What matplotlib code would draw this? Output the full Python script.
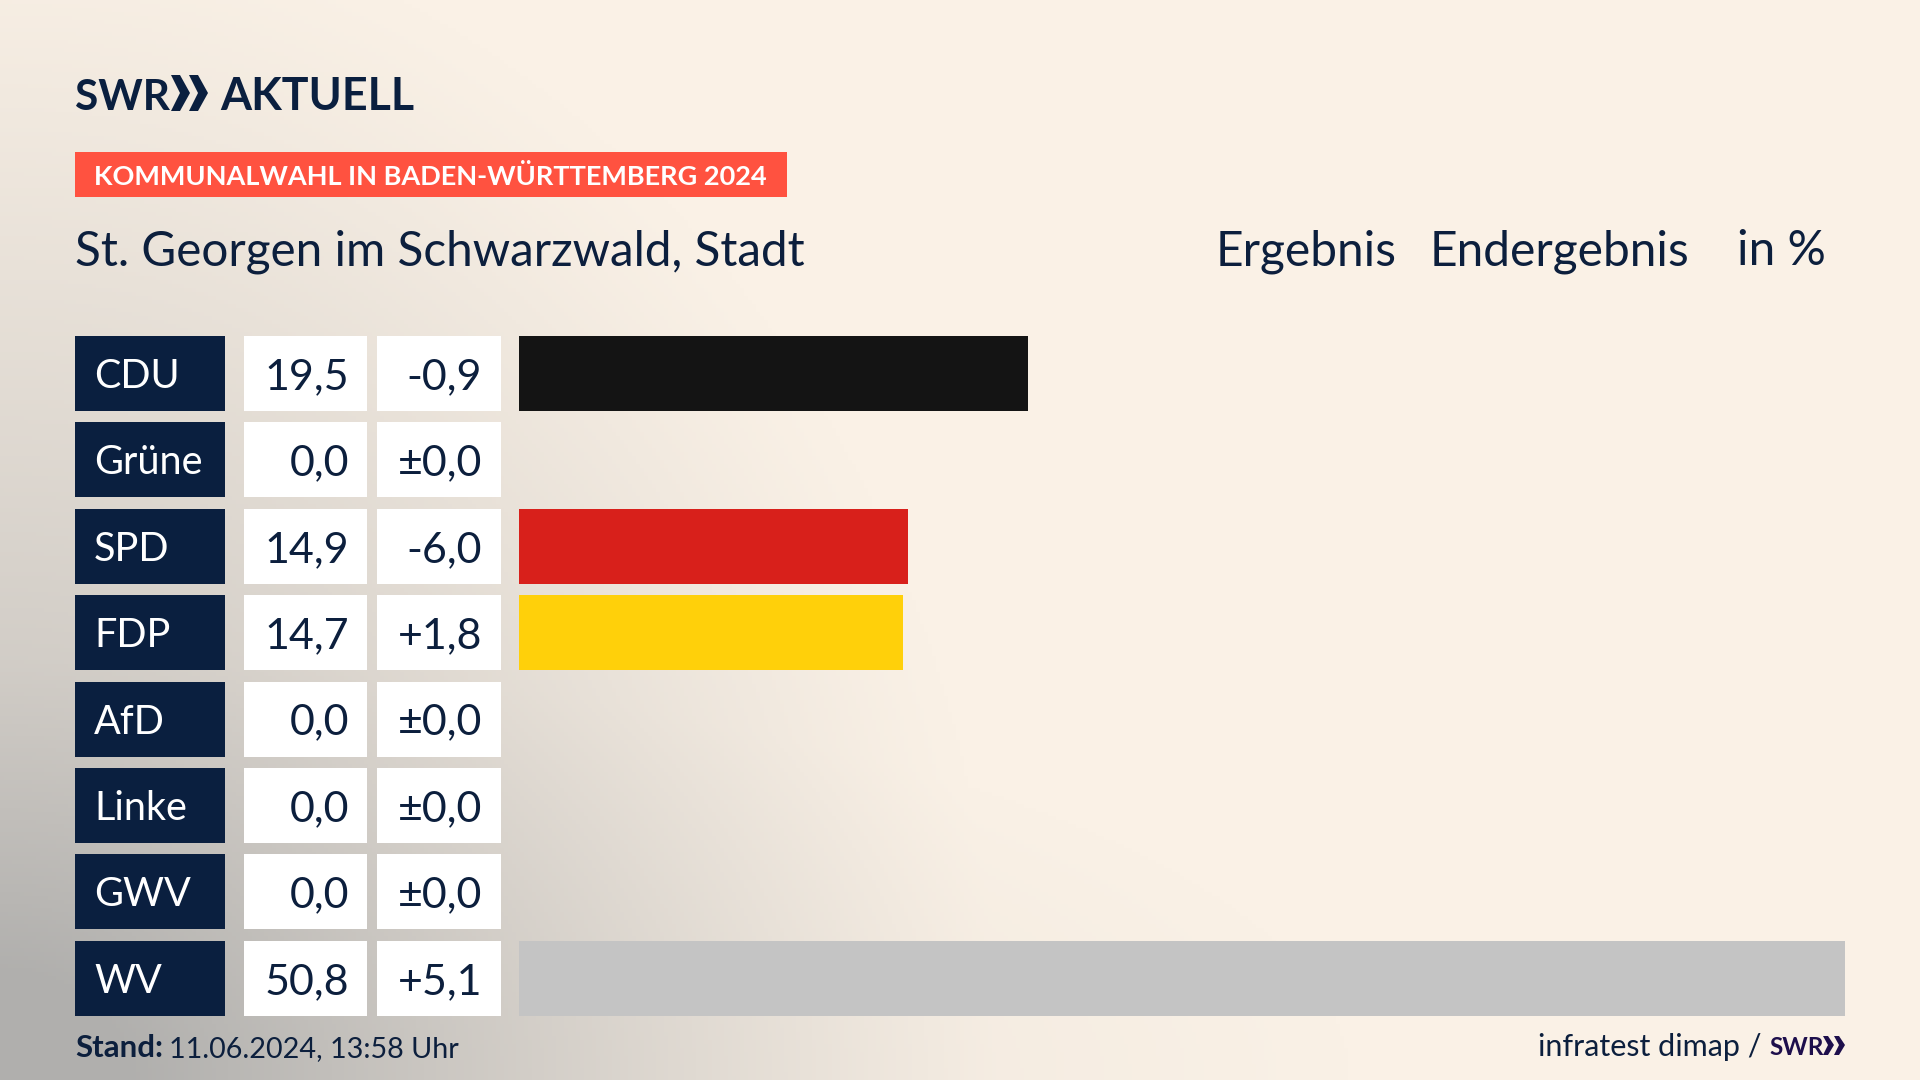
import numpy as np
import matplotlib
matplotlib.use('Agg')
import matplotlib.pyplot as plt
from matplotlib.patches import Rectangle, Polygon

parties = ['CDU', 'Grüne', 'SPD', 'FDP', 'AfD', 'Linke', 'GWV', 'WV']
results = [19.5, 0.0, 14.9, 14.7, 0.0, 0.0, 0.0, 50.8]
changes = [-0.9, 0.0, -6.0, 1.8, 0.0, 0.0, 0.0, 5.1]
bar_colors = ['#141414', '#46962B', '#D8201B', '#FFD00A', '#0087C1', '#BE3075', '#888888', '#C4C4C4']

NAVY = '#0A1F3F'
TEXT = '#0C1F3D'

plt.rcParams['font.family'] = ['Lato', 'DejaVu Sans']


def fmt_result(v):
    return f'{v:.1f}'.replace('.', ',')


def fmt_change(v):
    if v == 0:
        return '±0,0'
    return f'{v:+.1f}'.replace('.', ',')


fig = plt.figure(figsize=(19.2, 10.8), dpi=100)

# pixel canvas for background and all the boxes
bg = fig.add_axes([0, 0, 1, 1])
bg.set_xlim(0, 1920)
bg.set_ylim(1080, 0)
bg.axis('off')

xx, yy = np.meshgrid(np.linspace(0, 1920, 480), np.linspace(0, 1080, 270))
d = np.sqrt((xx / 1000) ** 2 + ((1080 - yy) / 1180) ** 2)
d2 = np.sqrt((xx / 1350) ** 2 + ((1080 - yy) / 420) ** 2)
dark = 0.9 * np.clip(1 - d, 0, 1) ** 1.15 + 0.25 * np.clip(1 - d2, 0, 1)
dark = np.clip(dark, 0, 1)[..., None]
cream = np.array([250, 241, 230]) / 255
grey = np.array([176, 175, 173]) / 255
bg.imshow(cream * (1 - dark) + grey * dark, extent=(0, 1920, 1080, 0), aspect='auto', zorder=0)

# logo
bg.text(75, 110, 'SWR', fontsize=30.5, fontweight='bold', color=NAVY, va='baseline', ha='left')
bg.text(220, 110, 'AKTUELL', fontsize=32.2, fontweight='bold', color=NAVY, va='baseline', ha='left')
for x0 in (171, 189):
    bg.add_patch(Polygon([(x0, 75), (x0 + 9, 75), (x0 + 19, 93), (x0 + 9, 111), (x0, 111), (x0 + 9, 93)],
                         color=NAVY, lw=0, zorder=3))

# red tag
bg.add_patch(Rectangle((75, 152), 712, 45, color='#FF5240', lw=0, zorder=2))
bg.text(94, 185, 'KOMMUNALWAHL IN BADEN-WÜRTTEMBERG 2024', fontsize=19.5, fontweight='bold',
        color='white', va='baseline', ha='left')

# header row
bg.text(75, 265, 'St. Georgen im Schwarzwald, Stadt', fontsize=34.3, color=TEXT, va='baseline')
bg.text(1216, 265, 'Ergebnis', fontsize=34.5, color=TEXT, va='baseline')
bg.text(1430, 265, 'Endergebnis', fontsize=34.5, color=TEXT, va='baseline')
bg.text(1826, 265, 'in %', fontsize=34.5, color=TEXT, va='baseline', ha='right')

# table rows
row_top = 336
row_pitch = 86.4
row_h = 75
for i, name in enumerate(parties):
    top = row_top + i * row_pitch
    mid = top + row_h / 2
    bg.add_patch(Rectangle((75, top), 150, row_h, color=NAVY, lw=0, zorder=2))
    bg.add_patch(Rectangle((244, top), 123, row_h, color='white', lw=0, zorder=2))
    bg.add_patch(Rectangle((377, top), 124, row_h, color='white', lw=0, zorder=2))
    bg.text(94, mid + 14.5, name, fontsize=28.5, color='white', va='baseline', zorder=4)
    base = mid + 15.5
    bg.text(349, base, fmt_result(results[i]), fontsize=31, color=TEXT, va='baseline', ha='right', zorder=4)
    bg.text(482, base, fmt_change(changes[i]), fontsize=31, color=TEXT, va='baseline', ha='right', zorder=4)

# bars
ax = fig.add_axes([519 / 1920, 1 - 1016 / 1080, 1326 / 1920, 680 / 1080])
ax.patch.set_alpha(0)
ax.barh(range(len(parties)), results, height=75 / 86.4, color=bar_colors)
ax.set_xlim(0, max(results))
ax.set_ylim(7 + 0.434, -0.434)
ax.axis('off')

# footer
bg.text(75, 1057, 'Stand:', fontsize=22.5, fontweight='bold', color=TEXT, va='baseline')
bg.text(169, 1057, '11.06.2024, 13:58 Uhr', fontsize=20.7, color=TEXT, va='baseline')
bg.text(1762, 1056, 'infratest dimap /', fontsize=22, color=TEXT, va='baseline', ha='right')
bg.text(1769, 1055, 'SWR', fontsize=17.5, fontweight='bold', color='#1E0F4C', va='baseline')
for x0 in (1823, 1834):
    bg.add_patch(Polygon([(x0, 1036), (x0 + 5, 1036), (x0 + 11, 1045), (x0 + 5, 1055), (x0, 1055), (x0 + 5, 1045)],
                         color='#1E0F4C', lw=0, zorder=3))

fig.savefig('out.png', dpi=100)
